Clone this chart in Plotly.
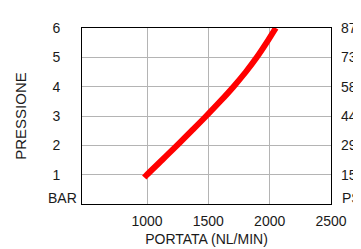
import plotly.graph_objects as go

# Data
flow = [978, 1000, 1123, 1245, 1365, 1483, 1597, 1705, 1805, 1895, 1975, 2050]
pressure = [0.9, 1.0, 1.5, 2.0, 2.5, 3.0, 3.5, 4.0, 4.5, 5.0, 5.5, 6.0]
y_ticks = [1, 2, 3, 4, 5, 6]
y_ticktext = ["1", "2", "3", "4", "5", "6"]
psi_ticktext = ["15", "29", "44", "58", "73", "87"]
x_ticks = [1000, 1500, 2000, 2500]

FONT = "Liberation Sans, Arial, sans-serif"
TXT = "#1a1a1a"

fig = go.Figure()
fig.add_trace(go.Scatter(x=flow, y=pressure, mode="lines",
                         line=dict(color="#ff0000", width=6, shape="spline", smoothing=1),
                         showlegend=False, hoverinfo="skip"))
# invisible trace for secondary axis
fig.add_trace(go.Scatter(x=[flow[0]], y=[pressure[0]], yaxis="y2", mode="markers",
                         marker=dict(opacity=0), showlegend=False, hoverinfo="skip"))

fig.update_layout(
    width=361, height=249,
    margin=dict(l=69, r=19, t=14, b=48),
    paper_bgcolor="white", plot_bgcolor="white",
    font=dict(family=FONT, size=14, color=TXT),
    xaxis=dict(range=[470, 2500], tickvals=x_ticks, showgrid=True,
               gridcolor="#b4b4b4", gridwidth=1, showline=True, linecolor="black",
               linewidth=1, mirror=True, ticks="", zeroline=False,
               ticklabelstandoff=4,
               title=dict(text="PORTATA (NL/MIN)", font=dict(size=14, color=TXT), standoff=6)),
    yaxis=dict(range=[0, 6], tickvals=y_ticks, ticktext=y_ticktext, showgrid=True,
               gridcolor="#b4b4b4", gridwidth=1, showline=True, linecolor="black",
               linewidth=1, mirror=True, ticks="", zeroline=False,
               ticklabelstandoff=18,
               title=dict(text="PRESSIONE", font=dict(size=15, color=TXT), standoff=22)),
    yaxis2=dict(range=[0, 6], overlaying="y", side="right", tickvals=y_ticks,
                ticktext=psi_ticktext, showgrid=False, showline=False, ticks="",
                zeroline=False, ticklabelstandoff=9),
    annotations=[
        dict(text="BAR", xref="paper", yref="y", x=0, y=0.22, xanchor="right",
             yanchor="middle", showarrow=False, xshift=-3, font=dict(size=14, color=TXT)),
        dict(text="PSI", xref="paper", yref="y", x=1, y=0.22, xanchor="left",
             yanchor="middle", showarrow=False, xshift=9, font=dict(size=14, color=TXT)),
    ],
)

fig.write_html("out.html")
